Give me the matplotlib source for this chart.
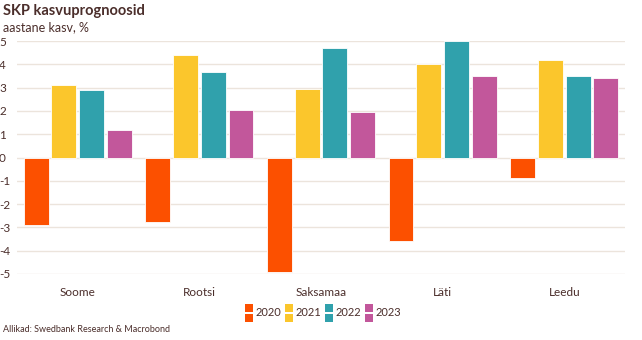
import matplotlib.pyplot as plt
import numpy as np
from matplotlib.patches import Rectangle

countries = ['Soome', 'Rootsi', 'Saksamaa', 'Läti', 'Leedu']
years = ['2020', '2021', '2022', '2023']
v2020 = [-2.9, -2.75, -4.9, -3.6, -0.9]
v2021 = [3.1, 4.4, 2.95, 4.0, 4.2]
v2022 = [2.9, 3.65, 4.7, 5.0, 3.5]
v2023 = [1.2, 2.05, 1.97, 3.5, 3.4]
series = [v2020, v2021, v2022, v2023]
colors = ['#fc5000', '#fbc62c', '#30a1ac', '#c2579b']

text_color = '#4b2e2b'
grid_color = '#ece4dc'
plt.rcParams['font.family'] = ['Lato', 'DejaVu Sans']

W, H = 642, 340
fig = plt.figure(figsize=(W / 100, H / 100), dpi=100)
ax = fig.add_axes([17 / W, 1 - 274 / H, 608 / W, 233 / H])

x = np.arange(len(countries))
step = 0.228
for i, vals in enumerate(series):
    ax.bar(x + (i - 1.5) * step, vals, width=0.205, color=colors[i],
           edgecolor='white', linewidth=0.6, zorder=3)

ax.set_xlim(-0.5, 4.5)
ax.set_ylim(-5, 5)
ax.set_yticks(range(-5, 6))
ax.set_yticklabels([str(t) for t in range(-5, 6)])
ax.yaxis.grid(True, color=grid_color, linewidth=1, zorder=0)
ax.set_xticks(x)
ax.set_xticklabels(countries)
ax.tick_params(axis='both', length=0, colors=text_color, labelsize=8.5)
ax.tick_params(axis='y', pad=5)
ax.tick_params(axis='x', pad=9)
for lbl in ax.get_yticklabels():
    lbl.set_horizontalalignment('left')
    lbl.set_x(-11 / 608)
for s in ax.spines.values():
    s.set_visible(False)

fig.text(3 / W, 1 - 11 / H, 'SKP kasvuprognoosid', fontsize=10.5,
         fontweight='bold', color=text_color, va='center')
fig.text(3 / W, 1 - 27 / H, 'aastane kasv, %', fontsize=9,
         color=text_color, va='center')
fig.text(3 / W, 1 - 330 / H, 'Allikad: Swedbank Research & Macrobond',
         fontsize=6.5, color=text_color, va='center')

# legend: split squares, drawn in pixel positions
for i, (yr, c) in enumerate(zip(years, colors)):
    x0 = 245 + 40 * i
    for top in (304, 313.5):
        fig.add_artist(Rectangle((x0 / W, 1 - (top + 8.2) / H), 8 / W, 8.2 / H,
                                 transform=fig.transFigure, color=c, lw=0))
    fig.text((x0 + 11) / W, 1 - 313 / H, yr, fontsize=8, color=text_color,
             va='center')

fig.savefig('out.png', dpi=100, facecolor='white')
